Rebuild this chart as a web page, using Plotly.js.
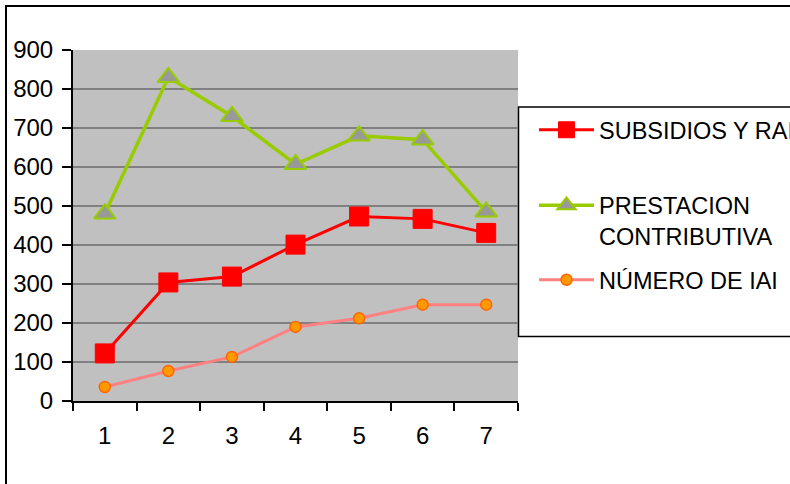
<!DOCTYPE html>
<html>
<head>
<meta charset="utf-8">
<script src="https://cdn.plot.ly/plotly-3.0.1.min.js"></script>
<style>
  html, body { margin: 0; padding: 0; background: #ffffff; overflow: hidden; }
  #chart { width: 790px; height: 484px; overflow: hidden; }
</style>
</head>
<body>
<div id="chart"></div>
<script>
// Series by period (1..7)
var categories = [1, 2, 3, 4, 5, 6, 7];
var subsidiosRai = [122, 304, 319, 401, 473, 467, 431];
var prestacionContributiva = [480, 830, 730, 607, 680, 670, 485];
var numeroIai = [36, 77, 113, 190, 212, 247, 247];

var seriesNames = ['SUBSIDIOS Y RAI', 'PRESTACION<br>CONTRIBUTIVA', 'NÚMERO DE IAI'];
var yTicks = [0, 100, 200, 300, 400, 500, 600, 700, 800, 900];
var xBoundaries = [0.5, 1.5, 2.5, 3.5, 4.5, 5.5, 6.5, 7.5];

var FONT = 'Liberation Sans, Arial, sans-serif';

// Plot area in pixels: x 73..518, y 50..401
var W = 790, H = 484, L = 73, R = 518, T = 50, B = 401;
function px(x) { return (x - L) / (R - L); }
function py(y) { return (B - y) / (B - T); }

var traces = [
  {
    x: categories, y: subsidiosRai, name: seriesNames[0],
    type: 'scatter', mode: 'lines+markers', legend: 'legend',
    line: { color: '#ff0000', width: 3 },
    marker: { symbol: 'square', size: 19, color: '#ff0000', line: { color: '#ff0000', width: 1 } }
  },
  {
    x: categories, y: prestacionContributiva, name: seriesNames[1],
    type: 'scatter', mode: 'lines+markers', legend: 'legend2',
    line: { color: '#99cc00', width: 3.5 },
    marker: { symbol: 'triangle-up', size: 19, color: '#999999', line: { color: '#99cc00', width: 2 } }
  },
  {
    x: categories, y: numeroIai, name: seriesNames[2],
    type: 'scatter', mode: 'lines+markers', legend: 'legend3',
    line: { color: '#ff8080', width: 3 },
    marker: { symbol: 'circle', size: 11, color: '#ff9900', line: { color: '#ff6600', width: 1.5 } }
  }
];

function legendAt(yMid, valign) {
  return {
    x: px(534), xanchor: 'left', y: yMid, yanchor: 'middle',
    bgcolor: 'rgba(0,0,0,0)', borderwidth: 0,
    font: { family: FONT, size: 23.5, color: '#000000' },
    itemwidth: 55, valign: valign || 'middle', itemclick: false, itemdoubleclick: false
  };
}

var layout = {
  width: W, height: H,
  margin: { l: L, r: W - R, t: T, b: H - B, pad: 0, autoexpand: false },
  paper_bgcolor: '#ffffff',
  plot_bgcolor: '#c0c0c0',
  font: { family: FONT, size: 24, color: '#000000' },
  showlegend: true,
  legend: legendAt(py(130)),
  legend2: legendAt(py(221), 'top'),
  legend3: legendAt(py(280)),
  xaxis: {
    type: 'linear', range: [0.5, 7.5], fixedrange: true, automargin: false,
    tickmode: 'array', tickvals: categories, ticktext: categories.map(String),
    ticks: '', showgrid: false, zeroline: false,
    showline: true, linecolor: '#000000', linewidth: 2,
    ticklabelstandoff: 12,
    tickfont: { family: FONT, size: 24, color: '#000000' },
    minor: { tickmode: 'array', tickvals: xBoundaries, ticks: 'outside', ticklen: 8, tickwidth: 2, tickcolor: '#000000', showgrid: false }
  },
  yaxis: {
    range: [0, 900], fixedrange: true, automargin: false,
    tickmode: 'array', tickvals: yTicks, ticktext: yTicks.map(String),
    ticks: 'outside', ticklen: 9, tickwidth: 2, tickcolor: '#000000',
    showgrid: true, gridcolor: '#808080', gridwidth: 2, zeroline: false,
    showline: true, linecolor: '#000000', linewidth: 2,
    ticklabelstandoff: 4,
    tickfont: { family: FONT, size: 24, color: '#000000' }
  },
  shapes: [
    // chart frame
    { type: 'rect', xref: 'paper', yref: 'paper', x0: px(6), x1: px(820), y0: py(520), y1: py(6),
      line: { color: '#000000', width: 2 }, fillcolor: 'rgba(0,0,0,0)', layer: 'above' },
    // legend box
    { type: 'rect', xref: 'paper', yref: 'paper', x0: px(518.5), x1: px(820), y0: py(336.5), y1: py(107),
      line: { color: '#000000', width: 1.5 }, fillcolor: '#ffffff', layer: 'below' }
  ]
};

Plotly.newPlot('chart', traces, layout, { staticPlot: true, displayModeBar: false });
</script>
</body>
</html>
